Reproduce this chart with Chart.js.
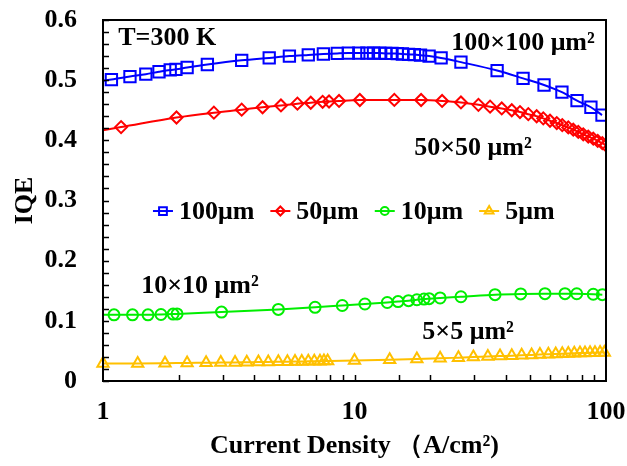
<!DOCTYPE html>
<html>
<head>
<meta charset="utf-8">
<script src="https://cdn.jsdelivr.net/npm/chart.js@4/dist/chart.umd.min.js"></script>
<style>
  html, body { margin: 0; padding: 0; background: #fff; }
  #wrap { width: 627px; height: 466px; }
</style>
</head>
<body>
<div id="wrap"><canvas id="chart" width="627" height="466"></canvas></div>
<script>
// IQE versus current density for four square micro-LED sizes (T = 300 K)

// 100 µm device
const j100 = [0.95, 1.08, 1.28, 1.48, 1.67, 1.85, 1.95, 2.16, 2.6, 3.56, 4.58, 5.51, 6.55, 7.52, 8.54, 9.45,
  10.4, 11.2, 11.9, 12.6, 13.3, 14.1, 14.8, 15.5, 16.4, 17.3, 18.3, 19.8, 22.1, 26.5, 36.9, 46.8, 56.7, 66.8, 76.7, 87.1, 96.4];
const iqe100 = [0.498, 0.501, 0.506, 0.510, 0.514, 0.517, 0.518, 0.521, 0.526, 0.533, 0.537, 0.540, 0.542, 0.5435, 0.5445, 0.545,
  0.545, 0.545, 0.545, 0.545, 0.5445, 0.5445, 0.544, 0.5435, 0.543, 0.5425, 0.5415, 0.540, 0.537, 0.530, 0.516, 0.503, 0.492, 0.480, 0.466, 0.455, 0.442];

// 50 µm device
const j50 = [0.94, 1.18, 1.96, 2.76, 3.56, 4.31, 5.10, 5.93, 6.70, 7.47, 7.92, 8.68, 10.5, 14.4, 18.4, 22.3, 26.5, 31.1,
  34.6, 38.5, 42.2, 45.5, 49.1, 53.0, 56.3, 59.9, 63.7, 67.0, 70.8, 74.1, 77.6, 81.2, 85.0, 89.0, 92.7, 96.7, 100];
const iqe50 = [0.415, 0.422, 0.438, 0.446, 0.451, 0.455, 0.458, 0.461, 0.4625, 0.464, 0.4645, 0.4655, 0.467, 0.4672, 0.467, 0.4655, 0.463, 0.459,
  0.456, 0.453, 0.450, 0.447, 0.4435, 0.440, 0.4365, 0.4325, 0.4287, 0.4253, 0.4215, 0.4177, 0.414, 0.410, 0.4063, 0.4028, 0.399, 0.3953, 0.3915];

// 10 µm device
const j10 = [0.94, 1.106, 1.31, 1.51, 1.70, 1.90, 1.97, 2.96, 4.98, 6.97, 8.94, 11.0, 13.5, 14.9, 16.4, 17.7, 18.9, 19.8,
  21.9, 26.5, 36.2, 45.8, 57.2, 68.7, 76.5, 89.0, 96.7];
const iqe10 = [0.110, 0.110, 0.110, 0.110, 0.1105, 0.1112, 0.1115, 0.1145, 0.119, 0.1225, 0.1255, 0.128, 0.1305, 0.132, 0.1335, 0.135, 0.1362, 0.1368,
  0.138, 0.140, 0.1435, 0.1448, 0.1452, 0.1452, 0.145, 0.1442, 0.1435];

// 5 µm device
const j5 = [1.0, 1.374, 1.764, 2.16, 2.57, 2.94, 3.35, 3.73, 4.15, 4.54, 4.98, 5.41, 5.80, 6.17, 6.55, 6.92, 7.29, 7.56, 7.82,
  10.0, 13.8, 17.7, 21.9, 25.9, 29.7, 33.9, 37.9, 42.2, 46.2, 50.6, 54.6, 59.0, 63.1, 67.0, 70.8, 74.8, 78.8, 82.5, 86.4, 90.4, 94.7, 98.5];
const iqe5 = [0.029, 0.0292, 0.0296, 0.030, 0.0303, 0.0306, 0.0309, 0.0312, 0.0315, 0.0317, 0.0319, 0.0321, 0.0323, 0.0325, 0.0327, 0.0328, 0.033, 0.0331, 0.0332,
  0.034, 0.0353, 0.0365, 0.0377, 0.0388, 0.0397, 0.0406, 0.0414, 0.0421, 0.0428, 0.0434, 0.044, 0.0445, 0.045, 0.0454, 0.0458, 0.0461, 0.0464, 0.0466, 0.0468, 0.047, 0.0472, 0.0474];

const seriesNames = ['100μm', '50μm', '10μm', '5μm'];
const xTickLabels = [1, 10, 100];
const yTickLabels = [0, 0.1, 0.2, 0.3, 0.4, 0.5, 0.6];
const xTitle = 'Current Density （A/cm²)';
const yTitle = 'IQE';

// in-plot text: device areas and temperature
const noteTexts = ['T=300 K', '100×100 μm²', '50×50 μm²', '10×10 μm²', '5×5 μm²'];
const noteJ = [1.80, 46.8, 29.6, 2.43, 28.3];
const noteIQE = [0.570, 0.562, 0.386, 0.158, 0.081];

// legend anchor (left end of the first legend line)
const legendJ = 1.58;
const legendIQE = 0.2825;

const FONT = "'Liberation Serif', 'Times New Roman', serif";
const colors = ['#0000ff', '#ff0000', '#00ee00', '#ffc000'];
const styles = ['rect', 'rectRot', 'circle', 'triangle'];
const radii = [8, 6, 5.5, 6.5];
const legendRadii = [5.5, 4.5, 4, 5];

const toPoints = (xs, ys) => xs.map((x, i) => ({ x: x, y: ys[i] }));
const seriesData = [toPoints(j100, iqe100), toPoints(j50, iqe50), toPoints(j10, iqe10), toPoints(j5, iqe5)];

const datasets = seriesData.map((d, i) => ({
  label: seriesNames[i],
  data: d,
  borderColor: colors[i],
  backgroundColor: 'rgba(0,0,0,0)',
  borderWidth: 2,
  pointStyle: styles[i],
  pointRadius: radii[i],
  pointBorderWidth: 2,
  pointBorderColor: colors[i],
  pointBackgroundColor: 'rgba(0,0,0,0)',
  cubicInterpolationMode: 'monotone',
  clip: i === 3 ? false : 0
}));

function marker(ctx, style, x, y, r) {
  ctx.beginPath();
  if (style === 'rect') {
    const s = r * Math.SQRT1_2;
    ctx.rect(x - s, y - s, 2 * s, 2 * s);
  } else if (style === 'rectRot') {
    ctx.moveTo(x, y - r); ctx.lineTo(x + r, y); ctx.lineTo(x, y + r); ctx.lineTo(x - r, y); ctx.closePath();
  } else if (style === 'circle') {
    ctx.arc(x, y, r, 0, Math.PI * 2);
  } else {
    const a = 2 * Math.PI / 3;
    ctx.moveTo(x, y - r);
    ctx.lineTo(x + Math.sin(a) * r, y - Math.cos(a) * r);
    ctx.lineTo(x + Math.sin(2 * a) * r, y - Math.cos(2 * a) * r);
    ctx.closePath();
  }
  ctx.stroke();
}

const framePlugin = {
  id: 'frameAndTicks',
  afterDatasetsDraw(chart) {
    const { ctx, chartArea: a, scales } = chart;
    ctx.save();
    ctx.strokeStyle = '#000';
    ctx.lineWidth = 2;
    ctx.strokeRect(a.left, a.top, a.right - a.left, a.bottom - a.top);
    ctx.lineWidth = 1.5;
    ctx.beginPath();
    scales.y.ticks.forEach(t => {
      const py = Math.round(scales.y.getPixelForValue(t.value)) + 0.5;
      ctx.moveTo(a.left, py); ctx.lineTo(a.left + 6, py);
    });
    scales.x.ticks.forEach(t => {
      if (t.value <= 1 || t.value >= 100) return;
      const px = Math.round(scales.x.getPixelForValue(t.value)) + 0.5;
      ctx.moveTo(px, a.bottom); ctx.lineTo(px, a.bottom - 6);
    });
    ctx.stroke();
    ctx.restore();
  },
  afterDraw(chart) {
    const { ctx, scales } = chart;
    ctx.save();
    ctx.fillStyle = '#000';
    ctx.font = 'bold 26px ' + FONT;
    ctx.textAlign = 'center';
    ctx.textBaseline = 'middle';
    noteTexts.forEach((t, i) => {
      ctx.fillText(t, scales.x.getPixelForValue(noteJ[i]), scales.y.getPixelForValue(noteIQE[i]));
    });
    // legend row
    let x = scales.x.getPixelForValue(legendJ);
    const y = scales.y.getPixelForValue(legendIQE);
    ctx.textAlign = 'left';
    seriesNames.forEach((name, i) => {
      ctx.strokeStyle = colors[i];
      ctx.lineWidth = 2;
      ctx.beginPath(); ctx.moveTo(x, y); ctx.lineTo(x + 20, y); ctx.stroke();
      marker(ctx, styles[i], x + 10, y, legendRadii[i]);
      ctx.fillStyle = '#000';
      ctx.fillText(name, x + 26, y + 1);
      x += 26 + ctx.measureText(name).width + 16;
    });
    ctx.restore();
  }
};

const tickFont = { family: FONT, size: 26, weight: 'bold' };
const noPad = s => { s.paddingTop = 0; s.paddingBottom = 0; s.paddingLeft = 0; s.paddingRight = 0; };

new Chart(document.getElementById('chart'), {
  type: 'line',
  data: { datasets: datasets },
  options: {
    responsive: false,
    animation: false,
    devicePixelRatio: 1,
    layout: { padding: { top: 20, right: 21, left: 0, bottom: 0 } },
    plugins: { legend: { display: false }, tooltip: { enabled: false } },
    scales: {
      x: {
        type: 'logarithmic',
        min: 1, max: 100,
        grid: { display: false, drawTicks: false },
        border: { display: false },
        ticks: {
          autoSkip: false, maxRotation: 0, padding: 16, color: '#000', font: tickFont,
          callback: v => (xTickLabels.some(t => Math.abs(t - v) < 1e-9) ? String(v) : '')
        },
        title: { display: true, text: xTitle, color: '#000', font: tickFont, padding: { top: 0, bottom: 4 } },
        afterFit: s => { s.height = 85; noPad(s); }
      },
      y: {
        min: 0, max: 0.6,
        grid: { display: false, drawTicks: false },
        border: { display: false },
        ticks: {
          stepSize: 0.02, autoSkip: false, padding: 26, color: '#000', font: tickFont,
          callback: v => {
            const hit = yTickLabels.find(t => Math.abs(t - v) < 1e-6);
            return hit === undefined ? '' : String(hit);
          }
        },
        title: { display: true, text: yTitle, color: '#000', font: tickFont, padding: { top: 10, bottom: 0 } },
        afterFit: s => { s.width = 103; noPad(s); }
      }
    }
  },
  plugins: [framePlugin]
});
</script>
</body>
</html>
